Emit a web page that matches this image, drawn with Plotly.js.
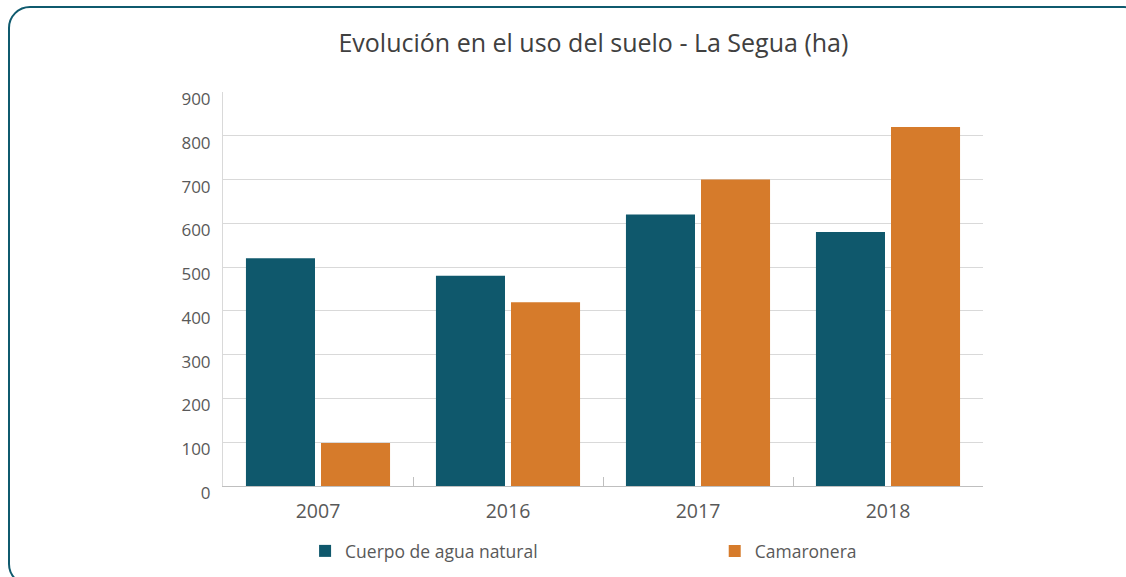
<!DOCTYPE html>
<html>
<head>
<meta charset="utf-8">
<script src="https://cdn.plot.ly/plotly-3.0.1.min.js"></script>
<style>
  html, body { margin: 0; padding: 0; background: #fff; width: 1126px; height: 577px; overflow: hidden; }
  #frame { position: absolute; left: 8px; top: 6px; width: 1138px; height: 580px; border: 2.5px solid #0f5a6e; border-radius: 22px; box-sizing: border-box; }
  #chart { position: absolute; left: 0; top: 0; width: 1126px; height: 577px; }
</style>
</head>
<body>
<div id="frame"></div>
<div id="chart"></div>
<script>
const years = ['2007', '2016', '2017', '2018'];
const cuerpoAgua = [520, 480, 620, 580];
const camaronera = [98, 420, 700, 820];
const seriesNames = ['Cuerpo de agua natural', 'Camaronera'];
const yTicks = [0, 100, 200, 300, 400, 500, 600, 700, 800, 900];

const font = "'Open Sans', 'Noto Sans', sans-serif";

const data = [
  { type: 'bar', x: years, y: cuerpoAgua, name: seriesNames[0], marker: { color: '#0f586c' }, hoverinfo: 'x+y', legend: 'legend' },
  { type: 'bar', x: years, y: camaronera, name: seriesNames[1], marker: { color: '#d67b2b' }, hoverinfo: 'x+y', legend: 'legend2' }
];

const legendStyle = { orientation: 'h', xanchor: 'left', y: -0.165, yanchor: 'middle', font: { size: 17.5, color: '#595959' }, bgcolor: 'rgba(0,0,0,0)' };

const layout = {
  width: 1126, height: 577,
  paper_bgcolor: 'rgba(0,0,0,0)', plot_bgcolor: 'rgba(0,0,0,0)',
  margin: { l: 223, r: 143, t: 92, b: 91, autoexpand: false },
  font: { family: font, color: '#595959', size: 16 },
  title: { text: 'Evolución en el uso del suelo - La Segua (ha)', x: 0.527, xanchor: 'center', y: 0.925, yanchor: 'middle', font: { family: font, size: 25, color: '#404040' } },
  barmode: 'group', bargap: 0.21, bargroupgap: 0.08,
  xaxis: {
    type: 'category', showgrid: false, showline: true, linecolor: '#bfbfbf', linewidth: 1,
    ticks: 'inside', tickson: 'boundaries', ticklen: 9, tickcolor: '#bfbfbf',
    ticklabelstandoff: 8,
    tickfont: { size: 19.5, color: '#595959' }
  },
  yaxis: {
    range: [0, 900], tickvals: yTicks, showgrid: true, gridcolor: '#d9d9d9', gridwidth: 1,
    showline: true, linecolor: '#d9d9d9', zeroline: false, ticks: '',
    ticklabelstandoff: 8, ticklabelshift: 7, tickfont: { size: 17, color: '#595959' }
  },
  showlegend: true,
  legend: Object.assign({}, legendStyle, { x: 0.108 }),
  legend2: Object.assign({}, legendStyle, { x: 0.647 })
};

Plotly.newPlot('chart', data, layout, { displayModeBar: false, staticPlot: true });
</script>
</body>
</html>
